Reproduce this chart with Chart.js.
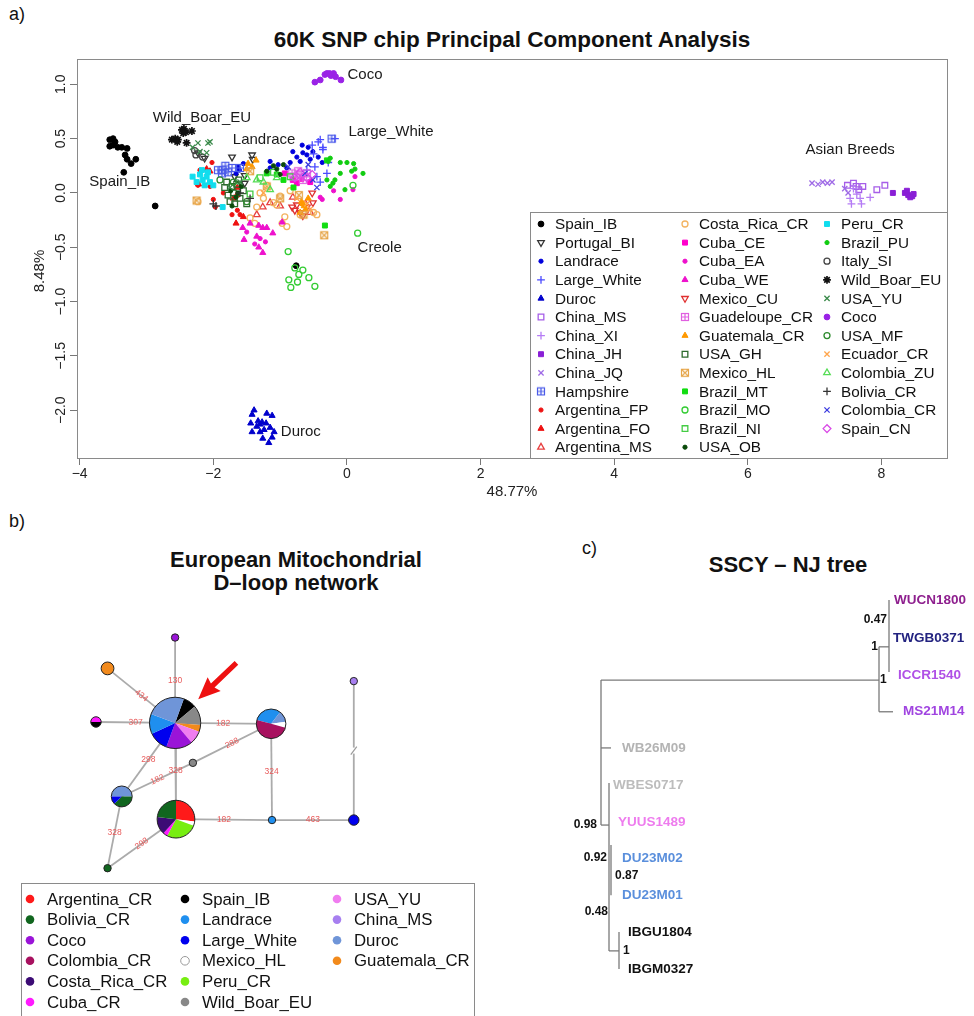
<!DOCTYPE html>
<html>
<head>
<meta charset="utf-8">
<script src="https://cdn.jsdelivr.net/npm/chart.js@4.4.0/dist/chart.umd.min.js"></script>
<style>
  body { margin: 0; background: #fff; font-family: "Liberation Sans", Arial, Helvetica, sans-serif; }
  #page { position: relative; width: 974px; height: 1016px; overflow: hidden; }
  .box { position: absolute; }
  .tag { position: absolute; font-size: 18px; line-height: 20px; color: #111; }
  .ttl { position: absolute; font-size: 22px; font-weight: bold; text-align: center; color: #111; }
</style>
</head>
<body>
<div id="page">
  <div class="tag" style="left:9px;top:4px">a)</div>
  <div class="ttl" style="left:77px;width:870px;top:27px;line-height:26px;font-size:22.5px">60K SNP chip Principal Component Analysis</div>
  <div class="box" style="left:0;top:0;width:974px;height:510px"><canvas id="pca"></canvas></div>

  <div class="tag" style="left:9px;top:511px">b)</div>
  <div class="ttl" style="left:96px;width:400px;top:548px;line-height:23px">European Mitochondrial<br>D&#8211;loop network</div>
  <div class="box" style="left:0;top:590px;width:480px;height:426px"><canvas id="net"></canvas></div>

  <div class="tag" style="left:582px;top:538px">c)</div>
  <div class="ttl" style="left:588px;width:400px;top:552px;line-height:26px">SSCY &#8211; NJ tree</div>
  <div class="box" style="left:560px;top:590px;width:414px;height:400px"><canvas id="tree"></canvas></div>
</div>

<script>
// ---------- a) PCA ----------
const pcaGroups = ['Spain_IB','Portugal_BI','Landrace','Large_White','Duroc','China_MS','China_XI','China_JH','China_JQ','Hampshire',
  'Argentina_FP','Argentina_FO','Argentina_MS','Costa_Rica_CR','Cuba_CE','Cuba_EA','Cuba_WE','Mexico_CU','Guadeloupe_CR','Guatemala_CR',
  'USA_GH','Mexico_HL','Brazil_MT','Brazil_MO','Brazil_NI','USA_OB','Peru_CR','Brazil_PU','Italy_SI','Wild_Boar_EU',
  'USA_YU','Coco','USA_MF','Ecuador_CR','Colombia_ZU','Bolivia_CR','Colombia_CR','Spain_CN'];

const pcaPoints = [
  [[-3.55,0.49],[-3.50,0.50],[-3.47,0.47],[-3.55,0.43],[-3.50,0.44],[-3.43,0.42],[-3.37,0.42],[-3.29,0.41],[-3.32,0.35],[-3.29,0.31],[-3.16,0.31],[-3.23,0.27],[-3.34,0.19],[-2.87,-0.12],[-0.76,-0.67]],
  [[-2.23,0.37],[-2.13,0.32],[-1.72,0.33],[-1.42,0.35],[-1.41,0.31],[-1.68,0.15],[-1.53,0.16],[-1.53,0.09]],
  [[-1.63,0.24],[-1.61,0.21],[-1.15,0.29],[-0.67,0.44],[-0.58,0.42],[-0.66,0.37],[-0.81,0.38],[-0.51,0.38],[-0.43,0.33],[-0.55,0.31],[-0.85,0.28],[-0.70,0.29],[-0.37,0.28],[-0.90,0.23],[-1.15,0.23],[-1.03,0.26],[-0.60,0.35],[-0.75,0.33],[-1.66,0.18],[-1.55,0.27]],
  [[-0.40,0.49],[-0.18,0.50],[-0.52,0.44],[-0.36,0.40],[-0.48,0.24],[-0.45,0.15],[-0.30,0.18],[-0.60,0.21],[-0.40,0.10],[-0.43,0.47],[-0.36,0.42],[-0.50,0.36],[-0.28,0.28]],
  [[-1.39,-2.00],[-1.42,-2.04],[-1.20,-2.03],[-1.12,-2.05],[-1.44,-2.12],[-1.33,-2.10],[-1.27,-2.11],[-1.21,-2.12],[-1.35,-2.15],[-1.24,-2.18],[-1.15,-2.16],[-1.09,-2.20],[-1.42,-2.20],[-1.26,-2.26],[-1.17,-2.30],[-1.12,-2.25],[-1.30,-2.20],[-1.30,-2.13]],
  [[7.49,0.07],[7.58,0.09],[7.72,0.06],[7.93,0.03],[8.05,0.07],[7.66,0.03],[7.62,0.06]],
  [[7.53,-0.05],[7.68,-0.05],[7.63,-0.01],[7.83,-0.04],[7.58,0.04],[7.70,-0.10],[7.55,-0.10]],
  [[8.17,0.00],[8.35,0.00],[8.40,-0.02],[8.46,-0.03],[8.48,-0.01],[8.38,0.02],[8.43,-0.04]],
  [[6.96,0.09],[7.05,0.08],[7.19,0.09],[7.26,0.10],[7.12,0.10],[7.45,0.04],[7.50,0.00]],
  [[-1.93,0.21],[-1.86,0.21],[-1.78,0.19],[-1.87,0.18],[-1.72,0.23],[-1.60,0.23],[-1.82,0.25],[-0.23,0.50]],
  [[-2.20,0.21],[-2.02,0.28],[-2.05,0.06],[-2.00,-0.06],[-1.72,-0.20],[-1.60,-0.20],[-1.64,-0.16],[-2.23,0.07],[-1.97,-0.13],[-1.85,0.00]],
  [[-2.22,0.08],[-2.05,0.20],[-1.65,-0.02],[-1.64,0.05],[-1.66,-0.28],[-1.55,-0.22],[-1.70,-0.05],[-2.10,0.22]],
  [[-1.26,-0.13],[-1.15,-0.09],[-0.81,-0.04],[-0.62,-0.10],[-0.55,-0.18],[-1.35,-0.20],[-1.00,-0.12]],
  [[-2.23,-0.08],[-1.45,-0.23],[-1.10,-0.09],[-1.00,-0.03],[-0.93,-0.22],[-0.50,-0.18],[-0.90,-0.31],[-1.30,0.00],[-1.35,-0.13],[-1.05,-0.11],[-0.97,-0.28],[-1.38,-0.28],[-0.45,-0.20],[-0.85,0.02],[-1.20,0.07],[-0.70,-0.20],[-1.25,-0.05]],
  [[-0.55,0.10],[-0.81,0.12],[-0.93,0.18],[-0.75,0.09],[-0.68,0.13]],
  [[-0.37,-0.06],[-0.10,-0.06],[0.09,0.03],[0.12,0.15],[-0.40,-0.04],[-1.50,-0.36],[-1.22,-0.45],[-1.38,-0.47],[-1.30,-0.42],[-0.20,0.02]],
  [[-1.56,-0.32],[-1.45,-0.28],[-1.54,-0.43],[-1.32,-0.30],[-1.26,-0.32],[-1.20,-0.32],[-1.11,-0.37],[-1.35,-0.40],[-1.32,-0.50],[-1.26,-0.55],[-0.97,-0.27]],
  [[-0.78,-0.16],[-0.70,-0.18],[-0.66,-0.21],[-0.75,-0.11],[-0.51,-0.09],[-0.60,-0.13],[-0.82,-0.13],[-0.52,0.00]],
  [[-0.82,0.18],[-0.70,0.17],[-0.60,0.18],[-0.66,0.12],[-0.80,0.15],[-0.73,0.20]],
  [[-1.48,0.27],[-1.42,0.24],[-1.36,0.30],[-1.50,0.22],[-0.68,-0.08],[-0.64,-0.12],[-0.62,-0.15],[-0.70,-0.18],[-0.58,-0.05],[-0.66,-0.10]],
  [[-1.83,0.05],[-1.78,-0.02],[-1.70,0.00],[-1.65,0.08],[-1.60,-0.05],[-1.75,-0.08],[-1.55,0.02],[-1.68,-0.10],[-1.62,0.12],[-1.80,0.10],[-1.50,-0.10],[-1.72,0.06]],
  [[-0.34,-0.39],[-1.45,0.20],[-1.20,0.06],[-0.65,-0.20],[-0.72,-0.02],[-1.00,-0.05],[-2.25,-0.07]],
  [[-0.33,-0.30],[-1.20,0.18],[-0.95,0.12],[-1.05,0.17],[-0.80,0.05],[-0.30,0.30]],
  [[0.16,-0.37],[-0.88,-0.54],[-0.78,-0.69],[-0.66,-0.71],[-0.87,-0.80],[-0.74,-0.82],[-0.57,-0.78],[-0.84,-0.87],[-0.48,-0.86],[0.09,0.07],[-0.72,-0.75]],
  [[-1.45,-0.01],[-1.10,0.19],[-0.85,0.15],[-1.30,0.14]],
  [[-1.74,0.02],[-1.66,-0.04],[-1.58,0.06],[-1.72,-0.12],[-1.63,0.00],[-1.20,0.20],[-1.05,0.22],[-0.95,0.26],[-1.10,0.25],[-1.00,0.17]],
  [[-2.20,0.17],[-2.16,0.12],[-2.10,0.15],[-2.13,0.07],[-2.05,0.10],[-2.31,0.15],[-2.00,0.07],[-2.17,0.21],[-2.08,0.19],[-1.86,-0.13],[-2.25,0.10]],
  [[-0.25,0.32],[-0.28,0.29],[-0.10,0.28],[0.00,0.28],[0.12,0.22],[0.24,0.18],[0.07,0.20],[-0.18,0.12],[-0.21,0.09],[-0.25,0.06],[-0.03,0.03],[-0.30,0.12],[0.10,0.27],[-0.10,0.18]],
  [[-2.26,0.35],[-2.16,0.33],[-2.28,0.39]],
  [[-2.62,0.49],[-2.57,0.50],[-2.53,0.49],[-2.47,0.58],[-2.44,0.59],[-2.41,0.56],[-2.32,0.57],[-2.40,0.46],[-2.54,0.47],[-2.45,0.55]],
  [[-2.31,0.42],[-2.23,0.46],[-2.08,0.46],[-2.05,0.47],[-2.20,0.38],[-2.10,0.37],[-1.75,0.05],[-1.60,0.10]],
  [[-0.48,1.02],[-0.40,1.04],[-0.33,1.09],[-0.30,1.10],[-0.24,1.08],[-0.20,1.10],[-0.17,1.07],[-0.09,1.04],[-0.26,1.10]],
  [[-1.70,0.10],[-1.50,-0.08],[-1.90,0.12]],
  [[-0.60,-0.10],[-0.75,-0.05],[-1.25,0.00],[-0.55,-0.15]],
  [[-1.35,0.12],[-1.15,0.03],[-1.05,0.14],[-1.25,0.10],[-1.50,0.14]],
  [[-1.96,-0.12],[-2.00,-0.10],[-1.60,0.00],[-1.45,-0.05]],
  [[-0.51,0.12],[-0.63,0.18],[-0.88,0.24],[-0.45,0.05],[-0.58,0.26]],
  [[-0.70,0.19],[-0.60,0.14],[-0.78,0.14],[-0.52,0.17]]
];

const xTickValues = [-4, -2, 0, 2, 4, 6, 8];
const xTickLabels = ['\u22124', '\u22122', '0', '2', '4', '6', '8'];
const yTickValues = [-2, -1.5, -1, -0.5, 0, 0.5, 1];
const yTickLabels = ['\u22122.0', '\u22121.5', '\u22121.0', '\u22120.5', '0.0', '0.5', '1.0'];

const clusterNames = ['Coco', 'Wild_Boar_EU', 'Landrace', 'Large_White', 'Spain_IB', 'Creole', 'Duroc', 'Asian Breeds'];
const clusterX = [0.27, -2.17, -1.24, 0.66, -3.40, 0.49, -0.69, 7.53];
const clusterY = [1.09, 0.69, 0.49, 0.56, 0.10, -0.51, -2.20, 0.40];

// ---------- b) D-loop network ----------
const hapGroups = ['Argentina_CR','Bolivia_CR','Coco','Colombia_CR','Costa_Rica_CR','Cuba_CR',
  'Spain_IB','Landrace','Large_White','Mexico_HL','Peru_CR','Wild_Boar_EU',
  'USA_YU','China_MS','Duroc','Guatemala_CR'];

const nodeX = [16.7, 16.7, 9.1, 7.8, 27.5, 18.7, 10.7, 16.8, 27.6, 36.8, 36.8, 9.1];
const nodeY = [11.7, 2.3, 5.7, 11.6, 11.8, 16.1, 19.8, 22.3, 22.4, 22.4, 7.1, 27.7];
const nodeMix = [
  [['Spain_IB',4],['Wild_Boar_EU',6],['Guatemala_CR',2],['USA_YU',4],['Coco',8],['Large_White',6],['Landrace',6],['Duroc',12]],
  [['Coco',1]],
  [['Guatemala_CR',3]],
  [['Cuba_CR',1],['Spain_IB',1]],
  [['Landrace',5],['Duroc',2],['Mexico_HL',1],['Colombia_CR',8]],
  [['Wild_Boar_EU',1]],
  [['Duroc',4],['Bolivia_CR',3],['Large_White',1]],
  [['Argentina_CR',7],['Mexico_HL',1],['Peru_CR',7],['Cuba_CR',1],['Costa_Rica_CR',4],['Bolivia_CR',6]],
  [['Landrace',1]],
  [['Large_White',2]],
  [['China_MS',1]],
  [['Bolivia_CR',1]]
];

const edgeFrom  = [0, 0, 0, 0, 0, 0, 4, 5, 4, 7, 8, 9, 6, 7];
const edgeTo    = [1, 2, 3, 4, 7, 6, 5, 6, 8, 8, 9, 10, 11, 11];
const edgeLabel = ['130', '434', '307', '182', '328', '298', '288', '182', '324', '182', '463', '', '328', '298'];

const arrowTail = [23.6, 5.1];
const arrowHead = [19.3, 9.1];

// ---------- c) NJ tree ----------
const treeSegs = [
  [0, 2.17, 0, 6.10],
  [0, 2.17, 27.8, 2.17],
  [27.8, 1.27, 27.8, 3.03],
  [27.8, 3.03, 29.2, 3.03],
  [27.8, 1.27, 28.8, 1.27],
  [28.8, 0.00, 28.8, 1.95],
  [0, 4.01, 1.0, 4.01],
  [0, 6.10, 0.8, 6.10],
  [0.8, 4.96, 0.8, 9.51],
  [1.0, 6.64, 1.0, 8.00],
  [0.8, 9.51, 1.8, 9.51],
  [1.8, 9.00, 1.8, 10.00]
];
const tipNames = ['WUCN1800','TWGB0371','ICCR1540','MS21M14','WB26M09','WBES0717','YUUS1489','DU23M02','DU23M01','IBGU1804','IBGM0327'];
const tipX = [29.3, 29.2, 29.7, 30.2, 2.1, 1.2, 1.7, 2.1, 2.1, 2.7, 2.7];
const tipY = [0, 1.03, 2.03, 3.03, 4.01, 5.01, 6.02, 6.99, 7.99, 9.0, 10.0];
const supportVals = ['0.47', '1', '1', '0.98', '0.92', '0.87', '0.48', '1'];
const supportX = [28.6, 27.7, 27.9, -0.4, 0.6, 1.4, 0.7, 2.2];
const supportY = [0.54, 1.27, 2.17, 6.10, 6.99, 7.48, 8.46, 9.51];

// ---------- styling ----------
const FONT = '"Liberation Sans", Arial, Helvetica, sans-serif';
Chart.defaults.font.family = FONT;
Chart.defaults.color = '#222';
Chart.defaults.animation = false;

const pcaSym = {
  Spain_IB: ['dot', '#000000'], Portugal_BI: ['dtri', '#333333'], Landrace: ['sdot', '#0000dd'],
  Large_White: ['plus', '#4a4aff'], Duroc: ['tri', '#0000cc'], China_MS: ['osq', '#a65ee8'],
  China_XI: ['plus', '#b57cf5'], China_JH: ['sq', '#8a1fd6'], China_JQ: ['x', '#9f6be6'],
  Hampshire: ['sqplus', '#4b5be8'], Argentina_FP: ['sdot', '#ee1111'], Argentina_FO: ['tri', '#ee1111'],
  Argentina_MS: ['otri', '#e84040'], Costa_Rica_CR: ['ocircle', '#f3b360'], Cuba_CE: ['sq', '#ff00cc'],
  Cuba_EA: ['sdot', '#ee11cc'], Cuba_WE: ['tri', '#ee11cc'], Mexico_CU: ['dtri', '#e03030'],
  Guadeloupe_CR: ['sqplus', '#e060e0'], Guatemala_CR: ['tri', '#ff9900'], USA_GH: ['osq', '#2d6b2d'],
  Mexico_HL: ['sqx', '#e6a64a'], Brazil_MT: ['sq', '#11dd11'], Brazil_MO: ['ocircle', '#33cc33'],
  Brazil_NI: ['osq', '#44cc44'], USA_OB: ['sdot', '#0a4a0a'], Peru_CR: ['sq', '#11ddee'],
  Brazil_PU: ['sdot', '#11cc11'], Italy_SI: ['ocircle', '#444444'], Wild_Boar_EU: ['star', '#111111'],
  USA_YU: ['x', '#3a8a4a'], Coco: ['dot', '#9a22e6'], USA_MF: ['ocircle', '#2e8b2e'],
  Ecuador_CR: ['x', '#ffa64d'], Colombia_ZU: ['otri', '#55dd55'], Bolivia_CR: ['plus', '#333333'],
  Colombia_CR: ['x', '#3a3ae0'], Spain_CN: ['odiamond', '#d94ae6']
};

const hapColor = {
  Argentina_CR: '#ff1a1a', Bolivia_CR: '#11661f', Coco: '#9a14d8', Colombia_CR: '#a8115f',
  Costa_Rica_CR: '#3c0b75', Cuba_CR: '#ff1aff', Spain_IB: '#000000', Landrace: '#1f8fef',
  Large_White: '#0000ee', Mexico_HL: '#ffffff', Peru_CR: '#77ee11', Wild_Boar_EU: '#888888',
  USA_YU: '#f07df0', China_MS: '#a77ff0', Duroc: '#6f95d8', Guatemala_CR: '#f28a1c'
};

// square with a plus or an x inside (R pch 12 / pch 7)
function boxSymbol(color, inner) {
  const c = document.createElement('canvas');
  c.width = 10; c.height = 10;
  const g = c.getContext('2d');
  g.strokeStyle = color; g.lineWidth = 1.2;
  g.strokeRect(1.5, 1.5, 7, 7);
  g.beginPath();
  if (inner === 'plus') { g.moveTo(5, 1.5); g.lineTo(5, 8.5); g.moveTo(1.5, 5); g.lineTo(8.5, 5); }
  else { g.moveTo(1.5, 1.5); g.lineTo(8.5, 8.5); g.moveTo(8.5, 1.5); g.lineTo(1.5, 8.5); }
  g.stroke();
  return c;
}

function markStyle(sym, color) {
  const open = { backgroundColor: 'rgba(0,0,0,0)', borderColor: color, borderWidth: 1.3 };
  const solid = { backgroundColor: color, borderColor: color, borderWidth: 1 };
  switch (sym) {
    case 'dot': return { ...solid, pointStyle: 'circle', pointRadius: 2.9 };
    case 'sdot': return { ...solid, pointStyle: 'circle', pointRadius: 2.1 };
    case 'ocircle': return { ...open, pointStyle: 'circle', pointRadius: 3 };
    case 'tri': return { ...solid, pointStyle: 'triangle', pointRadius: 3.5 };
    case 'otri': return { ...open, pointStyle: 'triangle', pointRadius: 3.8 };
    case 'dtri': return { ...open, pointStyle: 'triangle', pointRadius: 3.8, rotation: 180 };
    case 'sq': return { ...solid, pointStyle: 'rect', pointRadius: 3.5 };
    case 'osq': return { ...open, pointStyle: 'rect', pointRadius: 4 };
    case 'plus': return { ...open, pointStyle: 'cross', pointRadius: 3.9 };
    case 'x': return { ...open, pointStyle: 'crossRot', pointRadius: 3.7 };
    case 'star': return { ...open, pointStyle: 'star', pointRadius: 3.9, borderWidth: 1.7 };
    case 'odiamond': return { ...open, pointStyle: 'rectRot', pointRadius: 3.9 };
    case 'sqplus': return { ...open, pointStyle: boxSymbol(color, 'plus'), pointRadius: 4 };
    case 'sqx': return { ...open, pointStyle: boxSymbol(color, 'x'), pointRadius: 4 };
  }
}

// box round the plot area, R style
const frameBox = {
  id: 'frameBox',
  afterDraw(chart) {
    const { ctx, chartArea: a } = chart;
    ctx.save();
    ctx.strokeStyle = '#8a8a8a'; ctx.lineWidth = 1;
    ctx.strokeRect(Math.round(a.left) + 0.5, Math.round(a.top) + 0.5, Math.round(a.right - a.left), Math.round(a.bottom - a.top));
    ctx.restore();
  }
};

const clusterText = {
  id: 'clusterText',
  afterDatasetsDraw(chart) {
    const { ctx, scales: { x, y } } = chart;
    ctx.save();
    ctx.font = '15px ' + FONT;
    ctx.fillStyle = '#1a1a1a';
    ctx.textAlign = 'center'; ctx.textBaseline = 'middle';
    clusterNames.forEach((t, i) => ctx.fillText(t, x.getPixelForValue(clusterX[i]), y.getPixelForValue(clusterY[i])));
    ctx.restore();
  }
};

const pcaLegend = {
  id: 'pcaLegend',
  afterDraw(chart) {
    const { ctx, chartArea: a } = chart;
    const w = 417, h = 246, x0 = Math.round(a.right) - w, y0 = Math.round(a.bottom) - h;
    ctx.save();
    ctx.fillStyle = '#fff'; ctx.fillRect(x0, y0, w, h);
    ctx.strokeStyle = '#8a8a8a'; ctx.lineWidth = 1; ctx.strokeRect(x0 + 0.5, y0 + 0.5, w, h);
    ctx.font = '15.3px ' + FONT;
    ctx.textBaseline = 'middle'; ctx.textAlign = 'left';
    chart.data.datasets.forEach((ds, i) => {
      const col = Math.floor(i / 13), row = i % 13;
      const mx = x0 + [11, 155, 297][col], my = y0 + 12 + row * 18.6;
      ctx.fillStyle = ds.backgroundColor; ctx.strokeStyle = ds.borderColor; ctx.lineWidth = ds.borderWidth;
      Chart.helpers.drawPoint(ctx, { pointStyle: ds.pointStyle, radius: ds.pointRadius, rotation: ds.rotation || 0, borderWidth: ds.borderWidth }, mx, my);
      ctx.fillStyle = '#111';
      ctx.fillText(ds.label, mx + 14, my + 1);
    });
    ctx.restore();
  }
};

new Chart(document.getElementById('pca'), {
  type: 'scatter',
  data: {
    datasets: pcaGroups.map((g, i) => {
      const [sym, color] = pcaSym[g];
      return { label: g, data: pcaPoints[i].map(p => ({ x: p[0], y: p[1] })), order: -i, ...markStyle(sym, color) };
    })
  },
  options: {
    responsive: true, maintainAspectRatio: false, events: [],
    layout: { padding: { top: 59, right: 27, left: 0, bottom: 0 } },
    plugins: { legend: { display: false }, tooltip: { enabled: false } },
    scales: {
      x: {
        type: 'linear', min: -4.04, max: 8.98,
        afterBuildTicks: s => { s.ticks = xTickValues.map(v => ({ value: v })); },
        afterFit: s => { s.height = 52; },
        ticks: { autoSkip: false, maxRotation: 0, padding: 1, font: { size: 14 }, color: '#222', callback: (v, i) => xTickLabels[i] },
        grid: { drawOnChartArea: false, drawTicks: true, tickLength: 7, color: '#777' },
        border: { display: true, color: '#8a8a8a' },
        title: { display: true, text: '48.77%', font: { size: 15 }, color: '#222', padding: { top: 0, bottom: 9 } }
      },
      y: {
        type: 'linear', min: -2.44, max: 1.233,
        afterBuildTicks: s => { s.ticks = yTickValues.map(v => ({ value: v })); },
        afterFit: s => { s.width = 77; },
        ticks: { autoSkip: false, minRotation: 90, maxRotation: 90, crossAlign: 'center', padding: -5, font: { size: 14 }, color: '#222', callback: (v, i) => yTickLabels[i] },
        grid: { drawOnChartArea: false, drawTicks: true, tickLength: 7, color: '#777' },
        border: { display: true, color: '#8a8a8a' },
        title: { display: true, text: '8.48%      ', font: { size: 15 }, color: '#222', padding: { top: 31, bottom: 0 } }
      }
    }
  },
  plugins: [clusterText, frameBox, pcaLegend]
});

// ---------- b) chart ----------
function nodeTotal(i) { return nodeMix[i].reduce((s, m) => s + m[1], 0); }
const pieStart = [-70, -90, -90, 180, -165, -90, 180, -90, -90, -90, -90, -90];

const edgeText = {
  id: 'edgeText',
  afterDatasetsDraw(chart) {
    const { ctx } = chart;
    ctx.save();
    ctx.font = '8.5px ' + FONT;
    ctx.fillStyle = '#e85a5a';
    ctx.textAlign = 'center'; ctx.textBaseline = 'middle';
    edgeLabel.forEach((t, i) => {
      const pts = chart.getDatasetMeta(i).data;
      const mx = (pts[0].x + pts[1].x) / 2, my = (pts[0].y + pts[1].y) / 2;
      let ang = Math.atan2(pts[1].y - pts[0].y, pts[1].x - pts[0].x);
      if (ang > Math.PI / 2) ang -= Math.PI;
      if (ang < -Math.PI / 2) ang += Math.PI;
      if (Math.abs(ang) > 0.9) ang = 0;
      if (t === '') {
        // broken long branch
        ctx.strokeStyle = '#fff'; ctx.lineWidth = 4;
        ctx.beginPath(); ctx.moveTo(mx, my - 3); ctx.lineTo(mx, my + 3); ctx.stroke();
        ctx.strokeStyle = '#999'; ctx.lineWidth = 1.2;
        ctx.beginPath(); ctx.moveTo(mx - 3, my + 4); ctx.lineTo(mx + 3, my - 4); ctx.stroke();
        return;
      }
      ctx.save(); ctx.translate(mx, my); ctx.rotate(ang); ctx.fillText(t, 0, 0); ctx.restore();
    });
    ctx.restore();
  }
};

const pieNodes = {
  id: 'pieNodes',
  afterDatasetsDraw(chart) {
    const { ctx } = chart;
    const meta = chart.getDatasetMeta(edgeFrom.length);
    ctx.save();
    meta.data.forEach((el, i) => {
      const r = el.options.radius, tot = nodeTotal(i);
      let a = pieStart[i] * Math.PI / 180;
      nodeMix[i].forEach(([g, n]) => {
        const b = a + n / tot * Math.PI * 2;
        ctx.beginPath(); ctx.moveTo(el.x, el.y); ctx.arc(el.x, el.y, r, a, b); ctx.closePath();
        ctx.fillStyle = hapColor[g]; ctx.fill();
        a = b;
      });
      ctx.beginPath(); ctx.arc(el.x, el.y, r, 0, Math.PI * 2);
      ctx.strokeStyle = '#222'; ctx.lineWidth = 1; ctx.stroke();
    });
    // red arrow
    const xs = chart.scales.x, ys = chart.scales.y;
    const tx = xs.getPixelForValue(arrowTail[0]), ty = ys.getPixelForValue(arrowTail[1]);
    const hx = xs.getPixelForValue(arrowHead[0]), hy = ys.getPixelForValue(arrowHead[1]);
    const ang = Math.atan2(hy - ty, hx - tx), len = Math.hypot(hx - tx, hy - ty);
    ctx.translate(tx, ty); ctx.rotate(ang);
    ctx.fillStyle = '#ee1111';
    ctx.beginPath();
    ctx.moveTo(0, -2.6); ctx.lineTo(len - 20, -2.6); ctx.lineTo(len - 22, -9.5); ctx.lineTo(len, 0);
    ctx.lineTo(len - 22, 9.5); ctx.lineTo(len - 20, 2.6); ctx.lineTo(0, 2.6); ctx.closePath();
    ctx.fill();
    ctx.restore();
  }
};

const hapLegend = {
  id: 'hapLegend',
  afterDraw(chart) {
    const { ctx } = chart;
    ctx.save();
    ctx.strokeStyle = '#8a8a8a'; ctx.lineWidth = 1;
    ctx.strokeRect(21.5, 293.5, 453, 150);
    ctx.font = '16.8px ' + FONT;
    ctx.textBaseline = 'middle'; ctx.textAlign = 'left';
    hapGroups.forEach((g, i) => {
      const col = Math.floor(i / 6), row = i % 6;
      const mx = [30, 185, 337][col], my = 309 + row * 20.6;
      ctx.beginPath(); ctx.arc(mx, my, 4.3, 0, Math.PI * 2);
      if (hapColor[g] === '#ffffff') { ctx.strokeStyle = '#999'; ctx.lineWidth = 1; ctx.stroke(); }
      else { ctx.fillStyle = hapColor[g]; ctx.fill(); }
      ctx.fillStyle = '#111';
      ctx.fillText(g, mx + 17, my + 1);
    });
    ctx.restore();
  }
};

new Chart(document.getElementById('net'), {
  type: 'scatter',
  data: {
    datasets: edgeFrom.map((a, i) => ({
      data: [{ x: nodeX[a], y: nodeY[a] }, { x: nodeX[edgeTo[i]], y: nodeY[edgeTo[i]] }],
      showLine: true, borderColor: '#ababab', borderWidth: 1.8, pointRadius: 0
    })).concat([{
      data: nodeX.map((x, i) => ({ x, y: nodeY[i] })),
      pointRadius: nodeX.map((x, i) => 3.7 * Math.sqrt(nodeTotal(i))),
      backgroundColor: 'rgba(0,0,0,0)', borderColor: 'rgba(0,0,0,0)'
    }])
  },
  options: {
    responsive: true, maintainAspectRatio: false, events: [],
    layout: { padding: { top: 0, left: 0, right: 0, bottom: 136 } },
    plugins: { legend: { display: false }, tooltip: { enabled: false } },
    scales: {
      x: { display: false, min: 0, max: 48 },
      y: { display: false, min: 0, max: 29, reverse: true }
    }
  },
  plugins: [edgeText, pieNodes, hapLegend]
});

// ---------- c) chart ----------
const tipColor = ['#8e1f8e', '#232380', '#b050e6', '#a044e0', '#b4b4b4', '#bcbcbc', '#ee7cee', '#5a8fdc', '#5a8fdc', '#111111', '#111111'];
const supportAlign = ['right', 'right', 'left', 'right', 'right', 'left', 'right', 'left'];

const treeText = {
  id: 'treeText',
  afterDatasetsDraw(chart) {
    const { ctx, scales: { x, y } } = chart;
    ctx.save();
    ctx.textBaseline = 'middle';
    ctx.font = 'bold 13.5px ' + FONT;
    ctx.textAlign = 'left';
    tipNames.forEach((t, i) => {
      ctx.fillStyle = tipColor[i];
      ctx.fillText(t, x.getPixelForValue(tipX[i]), y.getPixelForValue(tipY[i]));
    });
    ctx.font = 'bold 12px ' + FONT;
    ctx.fillStyle = '#111';
    supportVals.forEach((t, i) => {
      ctx.textAlign = supportAlign[i];
      ctx.fillText(t, x.getPixelForValue(supportX[i]), y.getPixelForValue(supportY[i]));
    });
    ctx.restore();
  }
};

new Chart(document.getElementById('tree'), {
  type: 'scatter',
  data: {
    datasets: treeSegs.map(s => ({
      data: [{ x: s[0], y: s[1] }, { x: s[2], y: s[3] }],
      showLine: true, borderColor: '#7a7a7a', borderWidth: 1.3, pointRadius: 0
    }))
  },
  options: {
    responsive: true, maintainAspectRatio: false, events: [],
    layout: { padding: 0 },
    plugins: { legend: { display: false }, tooltip: { enabled: false } },
    scales: {
      x: { display: false, min: -4.1, max: 37.3 },
      y: { display: false, min: -0.27, max: 10.57, reverse: true }
    }
  },
  plugins: [treeText]
});
</script>
</body>
</html>
